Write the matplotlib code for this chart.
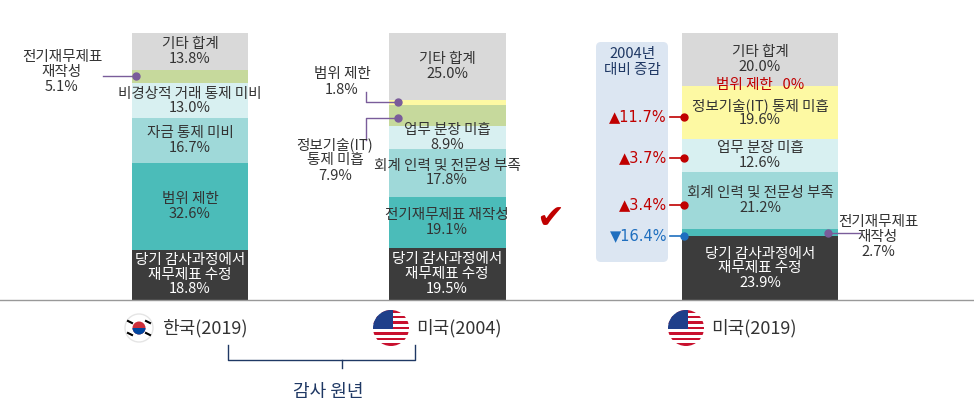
import matplotlib
matplotlib.use("Agg")
import matplotlib.pyplot as plt
from matplotlib.patches import FancyBboxPatch, Rectangle, Ellipse
import numpy as np

plt.rcParams['font.family'] = ['Noto Sans CJK KR', 'DejaVu Sans']

groups = ['한국(2019)', '미국(2004)', '미국(2019)']
kr_labels = ['당기 감사과정에서\n재무제표 수정', '범위 제한', '자금 통제 미비', '비경상적 거래 통제 미비', '전기재무제표 재작성', '기타 합계']
kr_vals = [18.8, 32.6, 16.7, 13.0, 5.1, 13.8]
us04_labels = ['당기 감사과정에서\n재무제표 수정', '전기재무제표 재작성', '회계 인력 및 전문성 부족', '업무 분장 미흡', '정보기술(IT)\n통제 미흡', '범위 제한', '기타 합계']
us04_vals = [19.5, 19.1, 17.8, 8.9, 7.9, 1.8, 25.0]
us19_labels = ['당기 감사과정에서\n재무제표 수정', '전기재무제표\n재작성', '회계 인력 및 전문성 부족', '업무 분장 미흡', '정보기술(IT) 통제 미흡', '범위 제한', '기타 합계']
us19_vals = [23.9, 2.7, 21.2, 12.6, 19.6, 0.0, 20.0]
changes = ['▼16.4%', '▲3.4%', '▲3.7%', '▲11.7%']

DARK, TEAL, MID, LIGHT, GREEN, YEL, GRAY = '#3c3c3c', '#4bbcb9', '#9fd9d9', '#d8f0f1', '#c6d99c', '#fdf9a3', '#d9d9d9'
kr_cols = [DARK, TEAL, MID, LIGHT, GREEN, GRAY]
us04_cols = [DARK, TEAL, MID, LIGHT, GREEN, YEL, GRAY]
us19_cols = [DARK, TEAL, MID, LIGHT, YEL, '#e05050', GRAY]

fig = plt.figure(figsize=(9.74, 4.16), dpi=100)
ax = fig.add_axes([0, 0, 1, 1])
S = 2.67
ax.set_xlim(0, 974)
ax.set_ylim(-116 / S, 300 / S)
ax.axis('off')
def py(p):
    return (300 - p) / S

xs = [190, 447, 760]
Ws = [116, 117, 156]
def stack(x, w, vals, cols):
    bots = np.concatenate([[0], np.cumsum(vals)[:-1]])
    ax.bar(x, vals, w, bottom=bots, color=cols, edgecolor='none', zorder=2)
    return bots
kb = stack(xs[0], Ws[0], kr_vals, kr_cols)
ub = stack(xs[1], Ws[1], us04_vals, us04_cols)
wb = stack(xs[2], Ws[2], us19_vals, us19_cols)

FS = 10.5
def inlab(x, bot, v, lab, color='#333333'):
    ax.text(x, bot + v / 2, f'{lab}\n{v:.1f}%', ha='center', va='center', fontsize=FS,
            color=color, linespacing=1.05, zorder=3)

for i in [0, 1, 2, 3, 5]:
    inlab(xs[0], kb[i], kr_vals[i], kr_labels[i], 'white' if i == 0 else '#333333')
ax.text(62, py(72), f'전기재무제표\n재작성\n{kr_vals[4]}%', ha='center', va='center', fontsize=FS, color='#333333', linespacing=1.1)
ax.plot([103, 136], [py(76), py(76)], color='#7a5c9a', lw=1)
ax.plot(136, py(76), 'o', color='#7a5c9a', ms=5, zorder=4)

for i in [0, 1, 2, 3, 6]:
    inlab(xs[1], ub[i], us04_vals[i], us04_labels[i], 'white' if i == 0 else '#333333')
ax.text(342, py(82), f'범위 제한\n{us04_vals[5]}%', ha='center', va='center', fontsize=FS, color='#333333', linespacing=1.1)
ax.plot([366, 366, 398], [py(92), py(102), py(102)], color='#7a5c9a', lw=1)
ax.plot(398, py(102), 'o', color='#7a5c9a', ms=5, zorder=4)
ax.text(335, py(160), f'정보기술(IT)\n통제 미흡\n{us04_vals[4]}%', ha='center', va='center', fontsize=FS, color='#333333', linespacing=1.1)
ax.plot([366, 366, 398], [py(140), py(118), py(118)], color='#7a5c9a', lw=1)
ax.plot(398, py(118), 'o', color='#7a5c9a', ms=5, zorder=4)
ax.text(550, ub[1] + us04_vals[1] / 2 + 1.5, '✔', ha='center', va='center', fontsize=24, color='#c00000', family='DejaVu Sans', zorder=4)

for i in [0, 2, 3, 4, 6]:
    inlab(xs[2], wb[i], us19_vals[i], us19_labels[i], 'white' if i == 0 else '#333333')
ax.text(xs[2], py(85), f'범위 제한   {us19_vals[5]:.0f}%', ha='center', va='center', fontsize=FS, color='#c00000', zorder=3)
ax.text(878, py(237), f'전기재무제표\n재작성\n{us19_vals[1]}%', ha='center', va='center', fontsize=FS, color='#333333', linespacing=1.1)
ax.plot([828, 860], [py(233), py(233)], color='#7a5c9a', lw=1, zorder=4)
ax.plot(828, py(233), 'o', color='#7a5c9a', ms=5, zorder=4)

box = FancyBboxPatch((596, py(262)), 72, (262 - 42) / S, boxstyle='round,pad=0,rounding_size=5',
                     facecolor='#dce6f2', edgecolor='none', zorder=1, mutation_aspect=1 / S)
ax.add_patch(box)
ax.text(632, py(62), '2004년\n대비 증감', ha='center', va='center', fontsize=FS, color='#1f3864', linespacing=1.1)
cy = [py(236), py(205), py(158), py(117)]
for c, y in zip(changes, cy):
    col = '#1f6fbf' if c.startswith('▼') else '#c00000'
    ax.text(667, y, c, ha='right', va='center', fontsize=10.5, color=col, family=['DejaVu Sans'])
    ax.plot([670, 684], [y, y], color=col, lw=1.2, zorder=3)
    ax.plot(684, y, 'o', color=col, ms=5, zorder=4)

ax.plot([0, 974], [0, 0], color='#999999', lw=1)

fy = py(328)
ax.add_patch(Ellipse((139, fy), 28, 28 / S, facecolor='white', edgecolor='#e5e5e5', zorder=3))
for dx, dy in [(-9, 6), (9, 6), (-9, -6), (9, -6)]:
    ax.plot([139 + dx - 2, 139 + dx + 2], [fy + (dy + 1) / S, fy + (dy - 1) / S], color='black', lw=1.5, zorder=4)
ax.add_patch(Ellipse((139, fy), 13, 13 / S, facecolor='#cd2e3a', zorder=4))
w = Ellipse((139, fy), 13, 13 / S, facecolor='#0047a0', zorder=4.5)
ax.add_patch(w)
w.set_clip_path(Rectangle((132, fy - 8 / S), 15, 8 / S, transform=ax.transData))
ax.text(162, fy, groups[0], ha='left', va='center', fontsize=13, color='#333333')

def flag_us(x, y):
    r = 18
    c = Ellipse((x, y), 2 * r, 2 * r / S, facecolor='white', edgecolor='none', zorder=3)
    ax.add_patch(c)
    h = 2 * r / 13
    for k in range(0, 13, 2):
        rect = Rectangle((x - r, y + (r - (k + 1) * h) / S), 2 * r, h / S, facecolor='#c8102e', edgecolor='none', zorder=3.2)
        ax.add_patch(rect); rect.set_clip_path(c)
    can = Rectangle((x - r, y - 1 / S), r + 2, (r + 1) / S, facecolor='#1f3f8a', edgecolor='none', zorder=3.5)
    ax.add_patch(can); can.set_clip_path(c)
flag_us(391, fy)
ax.text(416, fy, groups[1], ha='left', va='center', fontsize=13, color='#333333')
flag_us(686, fy)
ax.text(711, fy, groups[2], ha='left', va='center', fontsize=13, color='#333333')

ax.plot([228, 228, 415, 415], [py(345), py(360), py(360), py(345)], color='#1f3864', lw=1)
ax.plot([342, 342], [py(360), py(368)], color='#1f3864', lw=1)
ax.text(328, py(392), '감사 원년', ha='center', va='center', fontsize=13, color='#1f3864')

fig.savefig('out.png', dpi=100)
